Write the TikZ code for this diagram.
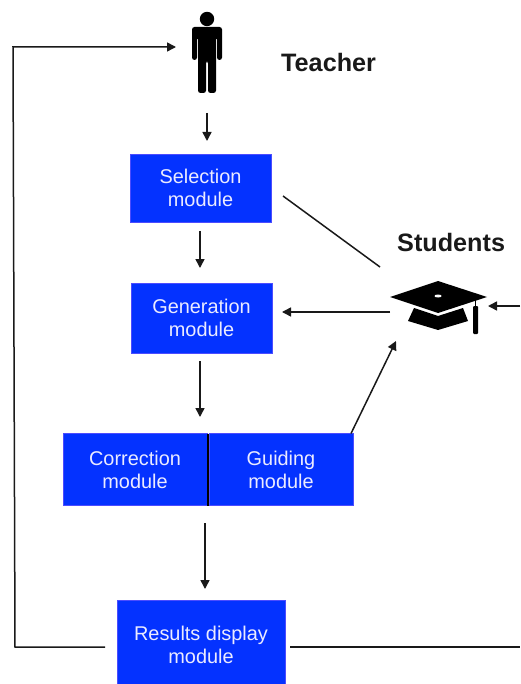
\documentclass[tikz,border=0pt]{standalone}
\usepackage{fontspec}
\setmainfont{Liberation Sans}
\usetikzlibrary{arrows.meta}
\begin{document}
\begin{tikzpicture}[x=1pt, y=-1pt, >={Triangle[length=9pt, width=9pt]}]
\tikzstyle{modulo}=[draw=blue!70!white, line width=.5pt, fill=modblue, text=white!92!blue, font=\fontsize{19.9}{23}\selectfont, align=center, inner sep=0, outer sep=0]
\tikzstyle{rotulo}=[font=\fontsize{25.2}{30}\selectfont\bfseries, text=black!90, inner sep=0]
\tikzstyle{seta}=[->, line width=1.5pt, black!90]
\tikzstyle{linha}=[line width=1.5pt, black!90]
\definecolor{modblue}{RGB}{4,50,255}
\useasboundingbox (0,0) rectangle (520,684);
% modules
\node[modulo, minimum width=141pt, minimum height=68pt] (selection) at (200.5,188){Selection\\module};
\node[modulo, minimum width=141pt, minimum height=70pt] (generation) at (201.5,318){Generation\\module};
\node[modulo, minimum width=144pt, minimum height=72pt] (correction) at (135,469.5){Correction\\module};
\node[modulo, minimum width=144pt, minimum height=72pt] (guiding) at (281,469.5){Guiding\\module};
\node[modulo, minimum width=168pt, minimum height=89pt] (results) at (201,644.5){Results display\\module};
\draw[line width=1.5pt, black] (correction.north east)++(1,0)--++(0,72);
% labels
\node[rotulo, anchor=west] (teacher) at (281,62){Teacher};
\node[rotulo, anchor=west] (students) at (397,242){Students};
% teacher figure
\fill[black] (207,19) circle (7.2);
\fill[black, rounded corners=2.5pt] (192,27)--(222,27)--(222,60)--(217,60)--(217,37)--(216,37)--(216,93)--(208,93)--(208,61)--(206,61)--(206,93)--(198,93)--(198,37)--(197,37)--(197,60)--(192,60)--cycle;
% cap
\fill[black] (390,297)--(438,281)--(487,297)--(438,313)--cycle;
\fill[white] (438,296) ellipse (3.5 and 1.5);
\fill[black] (414,308)--(438,316)--(463,308)--(468,321)--(438,330)--(408,321)--cycle;
\draw[black, line width=1pt] (475.5,298)--(475.5,306);
\fill[black, rounded corners=1pt] (473,306)--(478,306)--(478,334)--(473,334)--cycle;
% free ends
\coordinate (teacherin) at (176,47);
\coordinate (teacherout) at (207,113);
\coordinate (selin) at (207,141);
\coordinate (genin) at (282,312);
\coordinate (capleft) at (390,312);
\coordinate (capline) at (380,267);
\coordinate (capin) at (396,341);
\coordinate (capright) at (488,306);
\coordinate (edgeright) at (520,306);
\coordinate (edgelow) at (520,647);
\coordinate (resultsleft) at (105,647);
\coordinate (resultsright) at (290,647);
\coordinate (selout) at (283,196);
\draw[seta] (teacherout)--(selin);
\foreach \x/\ya/\yb in{200/231/268, 200/361/417, 205/523/589}
\draw[seta] (\x,\ya)--(\x,\yb);
\draw[linha] (selout)--(capline);
\draw[seta] (capleft)--(genin);
\draw[seta] (guiding.north east)++(-2,0)--(capin);
\draw[seta] (edgeright)--(capright);
\draw[linha] (resultsright)--(edgelow);
\draw[seta] (resultsleft)--(15,647)--(13,47)--(teacherin);
\end{tikzpicture}
\end{document}
